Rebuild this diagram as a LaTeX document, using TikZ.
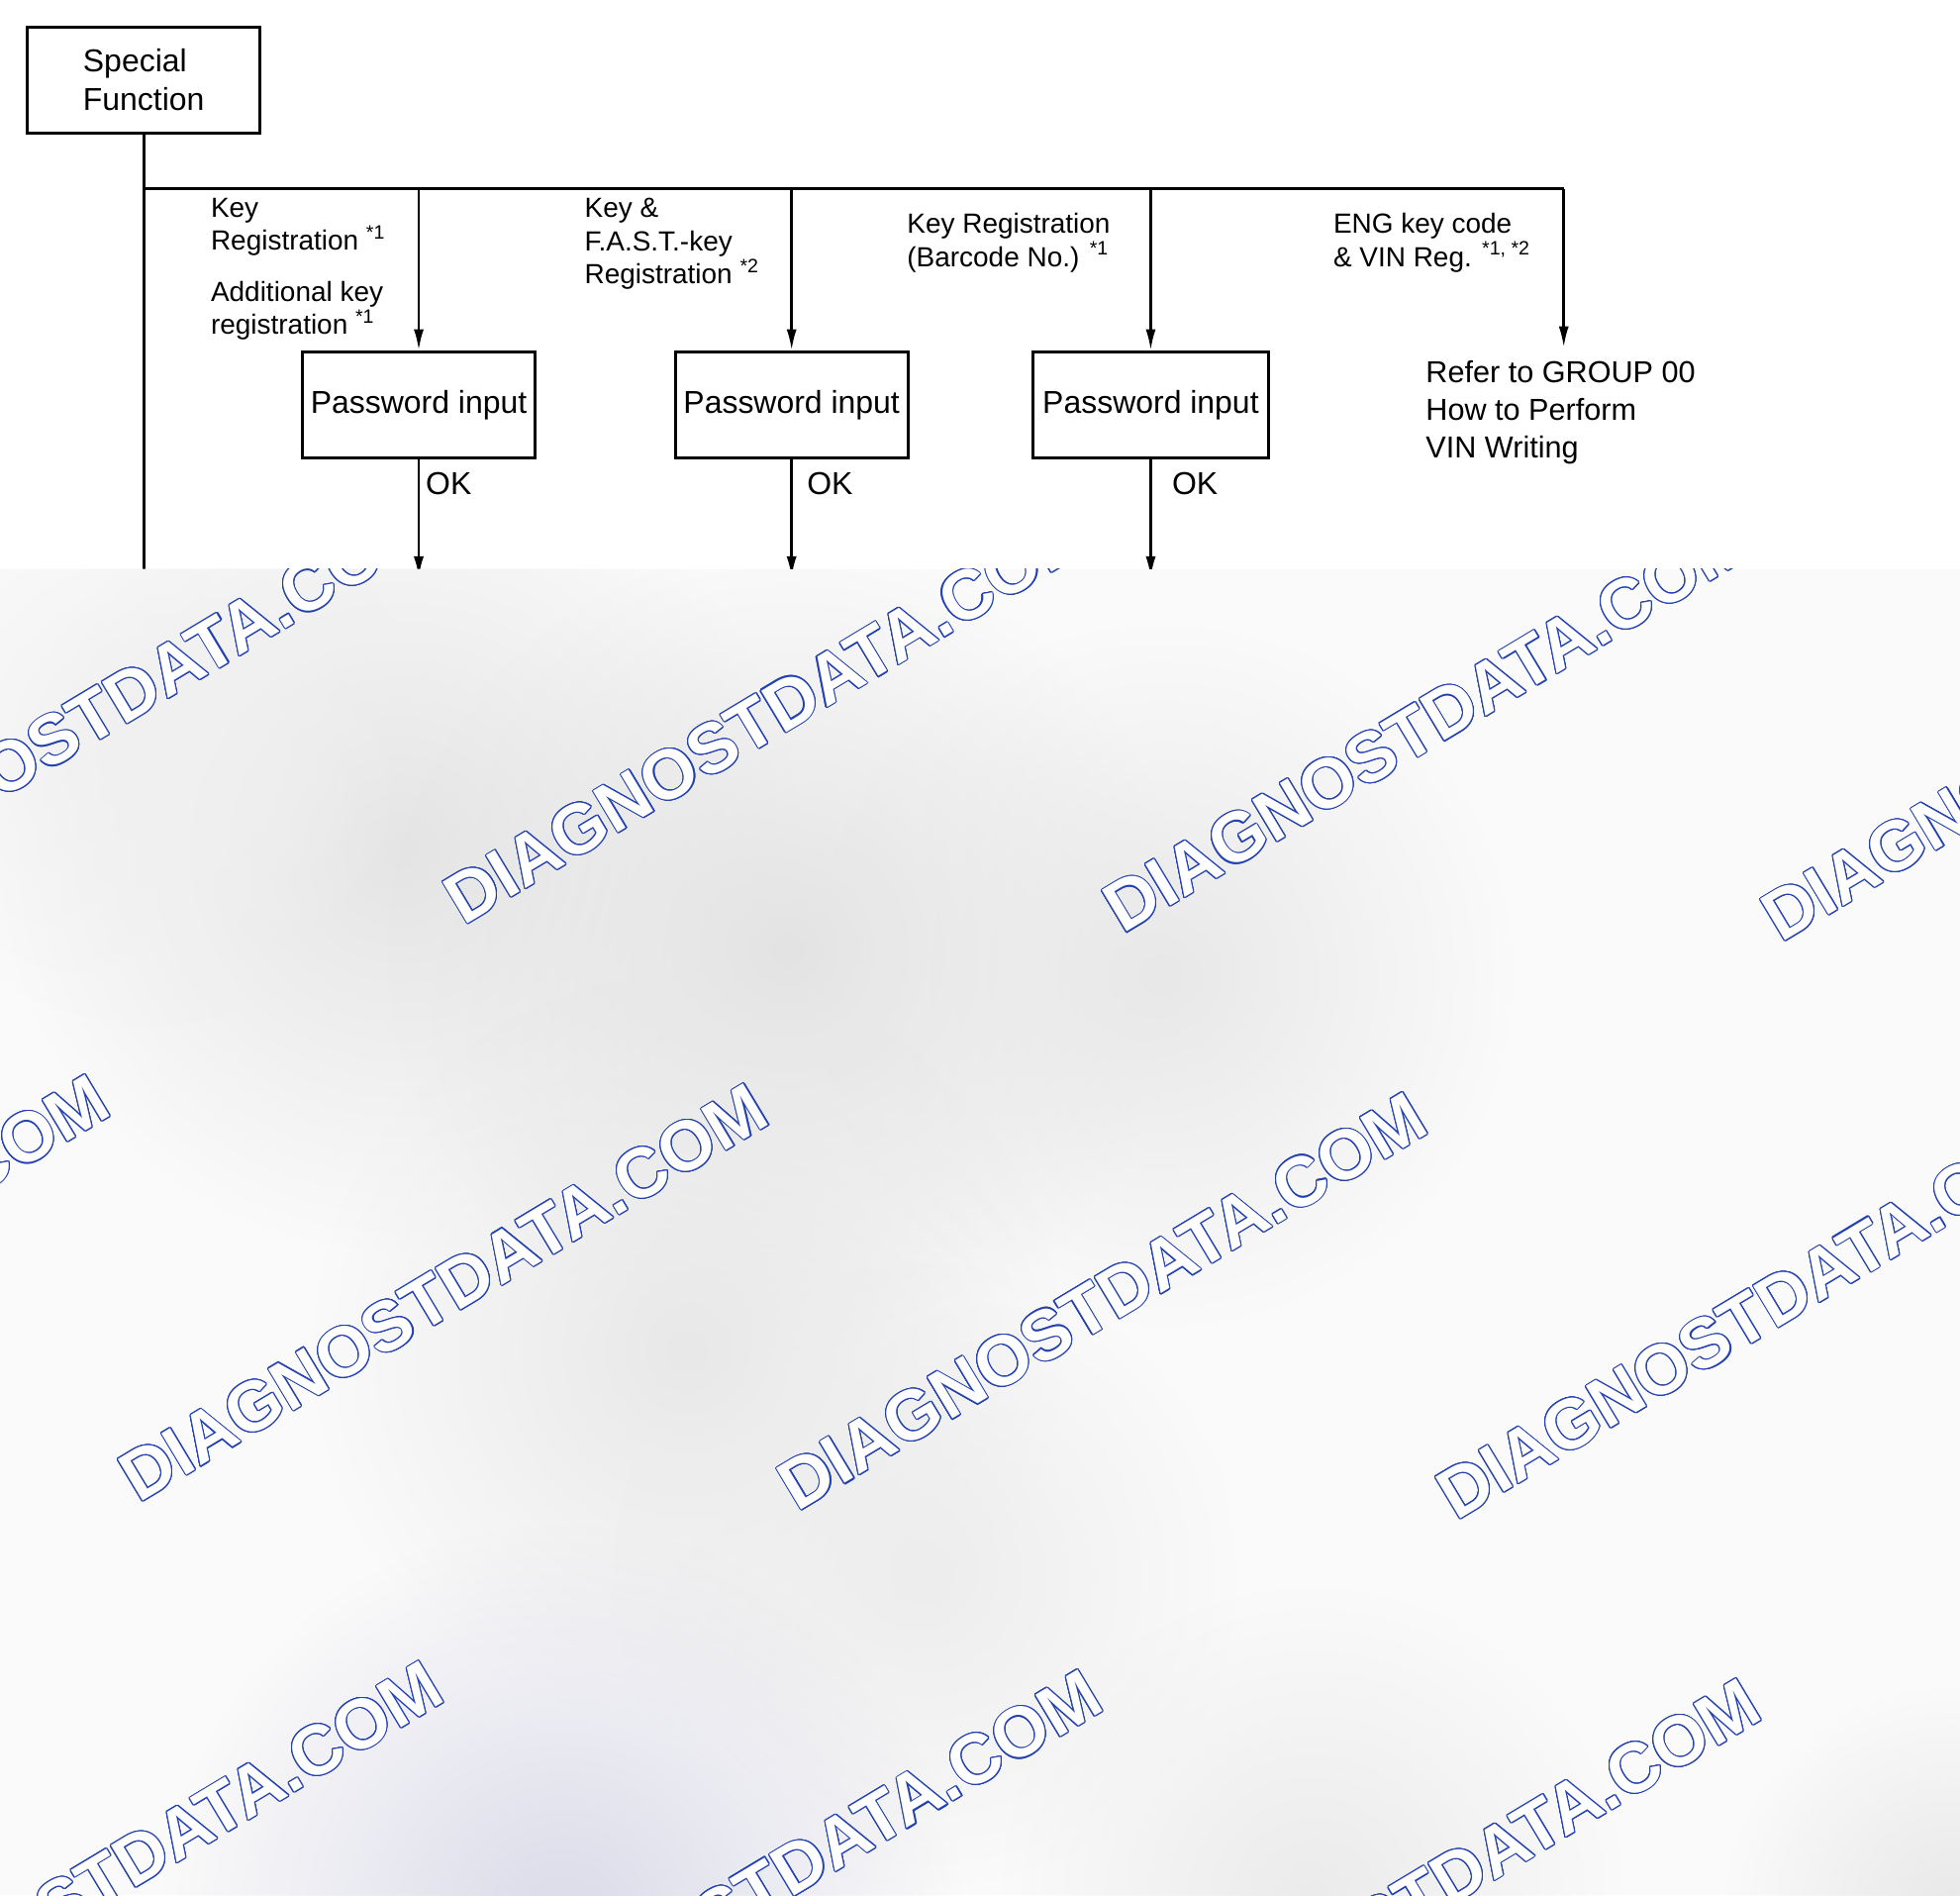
\documentclass[tikz,border=0pt]{standalone}
\usepackage{fontspec}
\setmainfont{Liberation Sans}
\usepackage{contour}
\usetikzlibrary{arrows.meta,calc,positioning,fadings}
\definecolor{wmblue}{RGB}{35,65,175}
\newcommand{\mainsz}{\fontsize{7.2}{8.8}\selectfont}
\newcommand{\lblsz}{\fontsize{6.3}{7.5}\selectfont}
\newcommand{\refsz}{\fontsize{6.9}{8.5}\selectfont}
\newcommand{\wmsz}{\fontsize{16}{16}\selectfont\bfseries}
\contourlength{0.25pt}
\contournumber{16}
\tikzfading[name=blobfade, inner color=transparent!0, outer color=transparent!100]

\begin{document}
\begin{tikzpicture}

\tikzset{box/.style={draw,line width=0.65pt,minimum width=1.86cm,minimum height=0.85cm,inner sep=0pt,font=\mainsz},
lbl/.style={anchor=north west,inner sep=0pt,align=left,font=\lblsz},
flow/.style={line width=0.6pt},
arr/.style={flow,-{Latex[length=1.7mm,width=0.8mm]}},
oklbl/.style={anchor=north west,inner sep=0pt,font=\mainsz},
wmark/.style={rotate=31,text=white,inner sep=0pt,font=\wmsz}}

\useasboundingbox (0,0) rectangle (15.68,-15.16);

% Boxes
\node [box,align=left] (spec) at (1.15,-0.64) {Special\\Function};
\node [box] (pw1) at (3.35,-3.24) {Password input};
\node [box,right=1.10cm of pw1] (pw2) {Password input};
\node [box,right=0.98cm of pw2,minimum width=1.88cm] (pw3) {Password input};
\node [anchor=north west,inner sep=0pt,align=left,font=\refsz] (refer) at (11.40,-2.88) {Refer to GROUP 00\\How to Perform\\VIN Writing};

% Branch labels
\node [lbl] (keyreg) at (1.68,-1.58) {Key\\Registration \textsuperscript{*1}};
\node [lbl] (addkey) at (1.68,-2.24) {Additional key\\registration \textsuperscript{*1}};
\node [lbl] (fastkey) at (4.67,-1.58) {Key \&\\F.A.S.T.-key\\Registration \textsuperscript{*2}};
\node [lbl] (barcode) at (7.25,-1.70) {Key Registration\\(Barcode No.) \textsuperscript{*1}};
\node [lbl] (engkey) at (10.66,-1.70) {ENG key code\\\& VIN Reg. \textsuperscript{*1, *2}};

\node [oklbl] (ok1) at (3.40,-3.77) {OK};
\node [oklbl] (ok2) at (6.45,-3.77) {OK};
\node [oklbl] (ok3) at (9.37,-3.77) {OK};

% Bus and free ends
\coordinate (bus) at (1.15,-1.51);
\coordinate (busend) at (12.51,-1.51);
\coordinate (vinend) at (12.51,-2.78);
\coordinate (sfend) at (1.15,-4.65);
\coordinate (out1) at (3.35,-4.62);
\coordinate (out2) at (pw2.south |- out1);
\coordinate (out3) at (pw3.south |- out1);

% Edges
\draw[flow] (spec.south) -- (sfend);
\draw[flow] (bus) -- (busend);
\draw[arr] (pw1.north |- bus) -- (pw1.north); \draw[arr] (pw2.north |- bus) -- (pw2.north); \draw[arr] (pw3.north |- bus) -- (pw3.north);
\draw[arr] (busend) -- (vinend);
\draw[arr] (pw1.south) -- (out1); \draw[arr] (pw2.south) -- (out2); \draw[arr] (pw3.south) -- (out3);

% Watermarked lower part
\begin{scope}
\clip (0,-4.55) rectangle (15.68,-15.16);
\fill[black!2] (0,-4.55) rectangle (15.68,-15.16);
\foreach \x/\y/\r/\c in {3.2/-6.8/3.2/black!10, 6.3/-7.6/3.2/black!11, 9.3/-7.8/2.8/black!9, 1.2/-6.0/2.2/black!6,
  5.5/-10.8/3.0/black!9, 7.4/-12.6/2.5/black!7, 4.5/-15.4/3.2/blue!40!black!14, 10.5/-15.2/2.5/black!8, 15.6/-15.3/1.8/black!9}
  \fill[\c,path fading=blobfade] (\x,\y) circle (\r);
\foreach \j in {-1,0,1} \foreach \i in {-1,...,2}
  \node[wmark] (wm\i\j) at ({3.55+5.27*\i-2.60*\j},{-10.34-0.07*\i-4.62*\j}) {\contour{wmblue}{DIAGNOSTDATA.COM}};
\end{scope}

\end{tikzpicture}
\end{document}
